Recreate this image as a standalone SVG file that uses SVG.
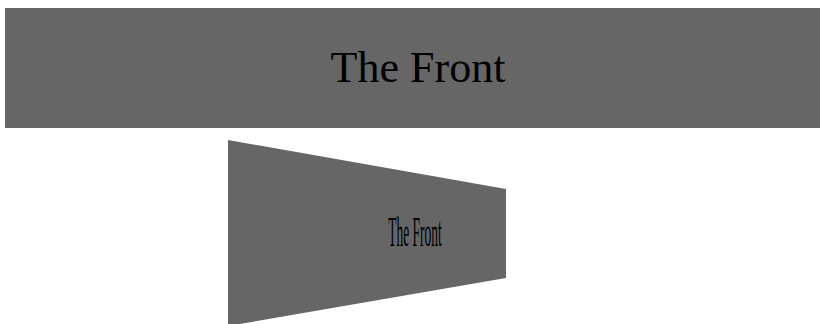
<svg xmlns="http://www.w3.org/2000/svg" width="820" height="324" viewBox="0 0 820 324">
<style>
.panel{fill:#666666}
.lbl{font-family:"Liberation Serif","Times New Roman",serif;fill:#000;text-anchor:middle}
</style>
<rect width="820" height="324" fill="#ffffff"/>
<g id="front">
<rect class="panel" x="5" y="8" width="815" height="120"/>
<text class="lbl" x="418" y="82" font-size="44">The Front</text>
</g>
<g id="front-perspective">
<polygon class="panel" points="228,140 506,189 506,278 228,326"/>
<text class="lbl" font-size="42" transform="translate(415,246) scale(0.32,1)">The Front</text>
</g>
<g id="connectors"></g>
</svg>
